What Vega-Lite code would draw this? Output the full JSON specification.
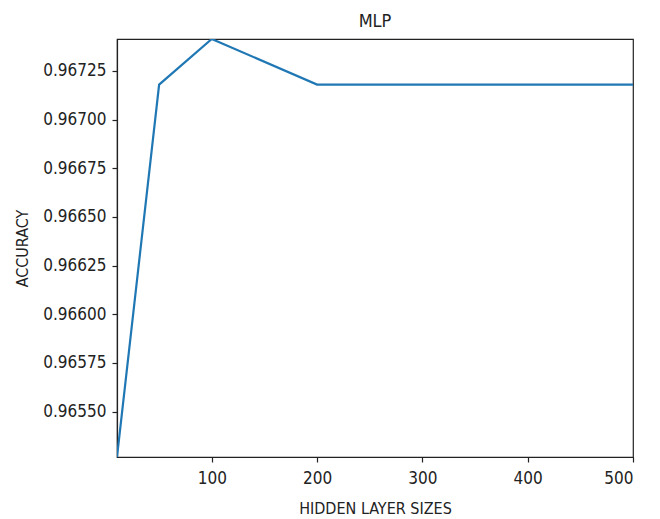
{
  "$schema": "https://vega.github.io/schema/vega-lite/v6.json",
  "autosize": "none",
  "width": 516,
  "height": 418,
  "padding": {"left": 117, "top": 39, "right": 27, "bottom": 62},
  "background": "white",
  "config": {
    "font": "DejaVu Sans Condensed",
    "view": {"stroke": "#222222", "strokeWidth": 1.2},
    "axis": {
      "grid": false,
      "domainColor": "#222222",
      "tickColor": "#222222",
      "labelColor": "#222222",
      "titleColor": "#222222",
      "labelFont": "DejaVu Sans Condensed",
      "titleFont": "DejaVu Sans Condensed",
      "labelFontSize": 17,
      "titleFontSize": 16,
      "titleFontWeight": "normal",
      "tickSize": 5,
      "domainWidth": 1.2,
      "tickWidth": 1.2
    }
  },
  "title": {"text": "MLP", "font": "DejaVu Sans Condensed", "fontSize": 18, "fontWeight": "normal", "color": "#222222", "offset": 8},
  "data": {
    "values": [
      {"size": 10, "acc": 0.965267},
      {"size": 50, "acc": 0.967180},
      {"size": 100, "acc": 0.967414},
      {"size": 200, "acc": 0.967180},
      {"size": 300, "acc": 0.967180},
      {"size": 400, "acc": 0.967180},
      {"size": 500, "acc": 0.967180}
    ]
  },
  "mark": {"type": "line", "color": "#1f77b4", "strokeWidth": 2.2, "clip": true},
  "encoding": {
    "x": {
      "field": "size", "type": "quantitative",
      "scale": {"domain": [10, 500], "nice": false, "zero": false},
      "axis": {"values": [100, 200, 300, 400, 500], "title": "HIDDEN LAYER SIZES", "labelPadding": 8, "titlePadding": 14}
    },
    "y": {
      "field": "acc", "type": "quantitative",
      "scale": {"domain": [0.965267, 0.967414], "nice": false, "zero": false},
      "axis": {"values": [0.9655, 0.96575, 0.966, 0.96625, 0.9665, 0.96675, 0.967, 0.96725], "format": ".5f", "title": "ACCURACY", "labelPadding": 6, "titlePadding": 12}
    }
  }
}
